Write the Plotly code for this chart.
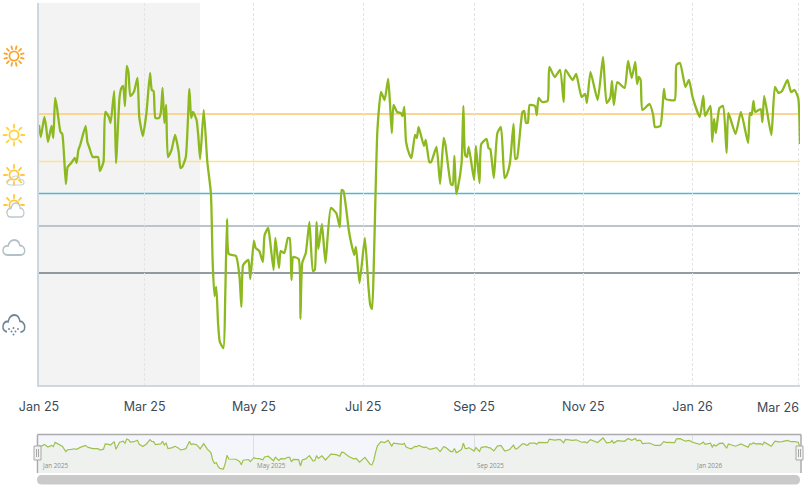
import base64
import math
import pandas as pd
import plotly.graph_objects as go

W, H = 810, 489

start_date = "2025-01-01"
end_day = 425
shaded_until = "2025-04-01"

days = [0,1,3,4,5,7,8,9,10,12,13,15,16,18,20,21,22,23,26,27,28,30,33,34,36,37,39,40,42,43,45,46,47,48,49,50,51,53,55,56,58,60,62,63,64,65,67,68,69,70,71,72,74,76,78,79,80,82,84,85,86,88,89,90,92,94,96,97,98,99,100,101,103,104,105,106,110,112,113,114,116,117,118,120,121,123,125,126,128,129,131,132,134,135,137,139,140,141,142,145,146,147,149,151,153,154,155,156,158,160,163,166,168,169,170,173,174,176,177,179,182,184,185,186,187,188,189,191,193,195,196,197,198,200,202,203,204,205,207,208,210,211,212,215,216,218,219,222,224,226,227,230,231,232,233,234,236,237,238,239,240,243,244,246,247,250,251,252,254,256,258,260,261,263,265,266,267,270,271,272,273,274,277,278,279,281,284,285,288,291,293,294,298,300,303,305,306,308,312,315,317,319,320,321,323,327,329,331,333,334,335,336,337,341,343,344,347,349,350,355,356,358,361,363,365,369,371,372,375,376,377,378,380,382,384,385,389,392,396,397,398,399,400,403,404,405,409,411,413,415,418,420,422,424,425]
values = [260,248,268,258,243,259,247,287,278,253,251,201,218,222,227,222,235,240,259,243,238,228,228,214,223,273,268,262,294,222,288,297,299,279,319,312,289,293,307,268,249,272,312,295,294,267,267,272,297,262,280,228,235,250,233,217,218,228,296,267,273,265,248,226,275,223,192,122,89,98,62,43,37,88,166,131,129,108,78,120,124,125,106,144,137,134,123,150,157,145,115,147,117,134,132,147,147,105,128,126,66,122,132,163,114,115,163,136,161,122,177,172,158,195,194,155,145,130,138,102,147,98,80,76,122,195,255,293,285,306,282,252,280,273,272,269,278,243,230,227,250,247,258,239,245,223,223,238,201,247,240,201,200,229,191,198,222,279,230,228,238,205,239,202,241,246,237,236,207,252,258,207,209,222,261,226,227,273,274,262,262,280,279,270,287,283,284,318,308,315,283,315,305,311,288,291,282,313,285,328,282,287,304,280,303,297,324,307,323,301,308,305,275,281,270,258,259,296,286,285,320,322,298,305,288,268,289,269,279,243,266,252,277,279,232,272,251,273,242,272,270,284,273,276,263,289,250,298,292,294,305,293,295,287,241]

tick_dates = ["2025-01-01","2025-03-01","2025-05-01","2025-07-01","2025-09-01","2025-11-01","2026-01-01"]
tick_labels = ["Jan 25","Mar 25","May 25","Jul 25","Sep 25","Nov 25","Jan 26"]
last_tick_date = "2026-03-01"
last_tick_label = "Mar 26"

nav_dates = ["2025-01-01","2025-05-01","2025-09-01","2026-01-01"]
nav_labels = ["Jan 2025","May 2025","Sep 2025","Jan 2026"]

thresholds = [271, 223.5, 191.5, 159, 112]
threshold_colors = ["#fbd592","#fde28a","#4fb8d6","#b9c4cc","#6f7a84"]
threshold_widths = [2.2,1.3,1.3,2,1.4]

dates = (pd.Timestamp(start_date) + pd.to_timedelta(days, unit="D")).strftime("%Y-%m-%d").tolist()
x_end = (pd.Timestamp(start_date) + pd.Timedelta(days=end_day)).strftime("%Y-%m-%d")

def px(x): return x / W
def py(y): return 1 - y / H

TICK_FONT = dict(family="Inter", size=12.5, color="#3c4b57")

# ---------- icons ----------
def sun(cx, cy, r, color, ray0, ray1, n=8, sw=1.8):
    s = f'<circle cx="{cx}" cy="{cy}" r="{r}" fill="none" stroke="{color}" stroke-width="{sw}"/>'
    for i in range(n):
        a = 2 * math.pi * i / n + (math.pi / n if n == 12 else 0)
        s += (f'<line x1="{cx+ray0*math.cos(a):.2f}" y1="{cy+ray0*math.sin(a):.2f}" '
              f'x2="{cx+ray1*math.cos(a):.2f}" y2="{cy+ray1*math.sin(a):.2f}" '
              f'stroke="{color}" stroke-width="{sw}" stroke-linecap="round"/>')
    return s

CLOUD = "M6 18.5C2.6 18.5 1 16.4 1.3 14.2C1.7 11.6 4 10.4 6.4 11C7.4 7.6 10 6 12.6 6C15.6 6 17.6 8 18.2 10.6C21 10.6 23 12.6 23 15C23 17 21.2 18.5 19 18.5Z"

def cloud(color, fill="none", transform="", sw=1.5):
    return f'<path d="{CLOUD}" fill="{fill}" stroke="{color}" stroke-width="{sw}" transform="{transform}"/>'

def svg(body):
    txt = f'<svg xmlns="http://www.w3.org/2000/svg" viewBox="0 0 28 28" width="28" height="28">{body}</svg>'
    return "data:image/svg+xml;base64," + base64.b64encode(txt.encode()).decode()

drops = "".join(
    f'<circle cx="{a}" cy="{b}" r="0.95" fill="#6f8596"/>'
    for a, b in [(9,18),(13.5,17),(18,18),(11.5,20.5),(15.5,20.5),(13.5,23.5)]
)
rain_cloud = cloud("#6f8596", "none", "translate(1.7 -4.2) scale(1 1.36)") + \
             '<rect x="7" y="17" width="13.5" height="7" fill="#ffffff"/>'

icons = [
    (14, 56, sun(14,14,4.6,"#f9a52e",7.2,10,12)),
    (14, 135, sun(14,14,4.6,"#fdd23c",7.2,10.4,8)),
    (14, 176, sun(14,13,4.6,"#fdc93a",7,10,8) +
              cloud("#c9d2d8","none","translate(6 9.7) scale(.78 .72)")),
    (14, 207, sun(14,12,4.6,"#fdc93a",7,10,8) +
              cloud("#bcc7ce","#ffffff","translate(6 3.3) scale(.78 1.12)")),
    (14, 248, cloud("#b3c0c8","none","translate(1.7 -1.2) scale(1 1.2)")),
    (14, 325, rain_cloud + drops),
]

images = [dict(source=svg(b), xref="paper", yref="paper", x=px(cx), y=py(cy),
               sizex=28/W, sizey=28/H, xanchor="center", yanchor="middle",
               sizing="stretch", layer="above") for cx, cy, b in icons]

# ---------- figure ----------
fig = go.Figure()
fig.add_trace(go.Scatter(x=dates, y=values, mode="lines", xaxis="x", yaxis="y",
                         line=dict(color="#8cb91f", width=2.3, shape="spline", smoothing=0.5),
                         hoverinfo="skip", showlegend=False))
fig.add_trace(go.Scatter(x=dates, y=values, mode="lines", xaxis="x2", yaxis="y2",
                         line=dict(color="#9dc24a", width=1.2), fill="tozeroy",
                         fillcolor="#eef1ee", hoverinfo="skip", showlegend=False))

shapes = [
    dict(type="rect", xref="x", yref="paper", x0=start_date, x1=shaded_until,
         y0=py(385), y1=py(3), fillcolor="#f3f3f3", line_width=0, layer="below"),
    dict(type="rect", xref="paper", yref="paper", x0=px(38), x1=px(801),
         y0=py(473), y1=py(435), fillcolor="#f4f6fb", line_width=0, layer="below"),
]
for t, c, w in zip(thresholds, threshold_colors, threshold_widths):
    shapes.append(dict(type="line", xref="x", yref="y", x0=start_date, x1=x_end, y0=t, y1=t,
                       line=dict(color=c, width=w), layer="below"))

for seg in [((37.5,473),(37.5,434.5)), ((37.5,434.5),(801,434.5)), ((801,434.5),(801,473))]:
    shapes.append(dict(type="line", xref="paper", yref="paper",
                       x0=px(seg[0][0]), y0=py(seg[0][1]), x1=px(seg[1][0]), y1=py(seg[1][1]),
                       line=dict(color="#ababab", width=1.5)))

for hx in (37.5, 799.5):
    shapes.append(dict(type="rect", xref="paper", yref="paper",
                       x0=px(hx-3.5), x1=px(hx+3.5), y0=py(460), y1=py(446),
                       fillcolor="#f2f2f2", line=dict(color="#a8a8a8", width=1)))
    for dx in (-1, 1):
        shapes.append(dict(type="line", xref="paper", yref="paper",
                           x0=px(hx+dx), x1=px(hx+dx), y0=py(449), y1=py(457),
                           line=dict(color="#a8a8a8", width=1)))

xa, xb, ya, yb, r = 37, 800, 475, 484.5, 4.7
path = (f"M{px(xa+r)} {py(ya)} L{px(xb-r)} {py(ya)} Q{px(xb)} {py(ya)} {px(xb)} {py((ya+yb)/2)} "
        f"Q{px(xb)} {py(yb)} {px(xb-r)} {py(yb)} L{px(xa+r)} {py(yb)} "
        f"Q{px(xa)} {py(yb)} {px(xa)} {py((ya+yb)/2)} Q{px(xa)} {py(ya)} {px(xa+r)} {py(ya)} Z")
shapes.append(dict(type="path", xref="paper", yref="paper", path=path,
                   fillcolor="#cacaca", line_width=0))

annotations = [dict(x=last_tick_date, xref="x", y=py(407), yref="paper", text=last_tick_label,
                    showarrow=False, xanchor="right", yanchor="middle", xshift=3,
                    font=TICK_FONT)]
for i, (d, t) in enumerate(zip(nav_dates, nav_labels)):
    annotations.append(dict(x=d, xref="x2", y=py(465.5), yref="paper", text=t, showarrow=False,
                            xanchor="left", yanchor="middle", xshift=1,
                            font=dict(family="Open Sans", size=6.3, color="#8d8d8d")))

fig.update_layout(
    width=W, height=H, margin=dict(l=0, r=0, t=0, b=0, pad=0, autoexpand=False),
    paper_bgcolor="#ffffff", plot_bgcolor="rgba(0,0,0,0)", showlegend=False,
    shapes=shapes, annotations=annotations, images=images,
    xaxis=dict(domain=[px(39), px(800)], type="date", range=[start_date, x_end],
               tickmode="array", tickvals=tick_dates + [last_tick_date],
               ticktext=tick_labels + [""],
               showgrid=True, gridcolor="#e4e4e4", griddash="3px,2px", gridwidth=1,
               zeroline=False, showline=True, linecolor="#ced7dd", linewidth=2,
               ticks="outside", ticklen=9, tickcolor="rgba(0,0,0,0)",
               tickfont=TICK_FONT, anchor="y"),
    yaxis=dict(domain=[py(385), py(3)], range=[0, 382], showgrid=False, zeroline=False,
               showticklabels=False, ticks="", showline=True, linecolor="#ced7dd",
               linewidth=2, anchor="x"),
    xaxis2=dict(domain=[px(39), px(800)], type="date", range=[start_date, x_end],
                tickmode="array", tickvals=nav_dates[1:], ticktext=[""]*3,
                showgrid=True, gridcolor="#dcdfe0", gridwidth=1, griddash="solid",
                zeroline=False, showline=False, ticks="", anchor="y2"),
    yaxis2=dict(domain=[py(473), py(435)], range=[0, 356], showgrid=False, zeroline=False,
                showticklabels=False, ticks="", showline=False, anchor="x2"),
)

fig.write_html("out.html", config=dict(displayModeBar=False),
               post_script="document.documentElement.style.margin='0';document.body.style.margin='0';document.body.style.overflow='hidden';")
